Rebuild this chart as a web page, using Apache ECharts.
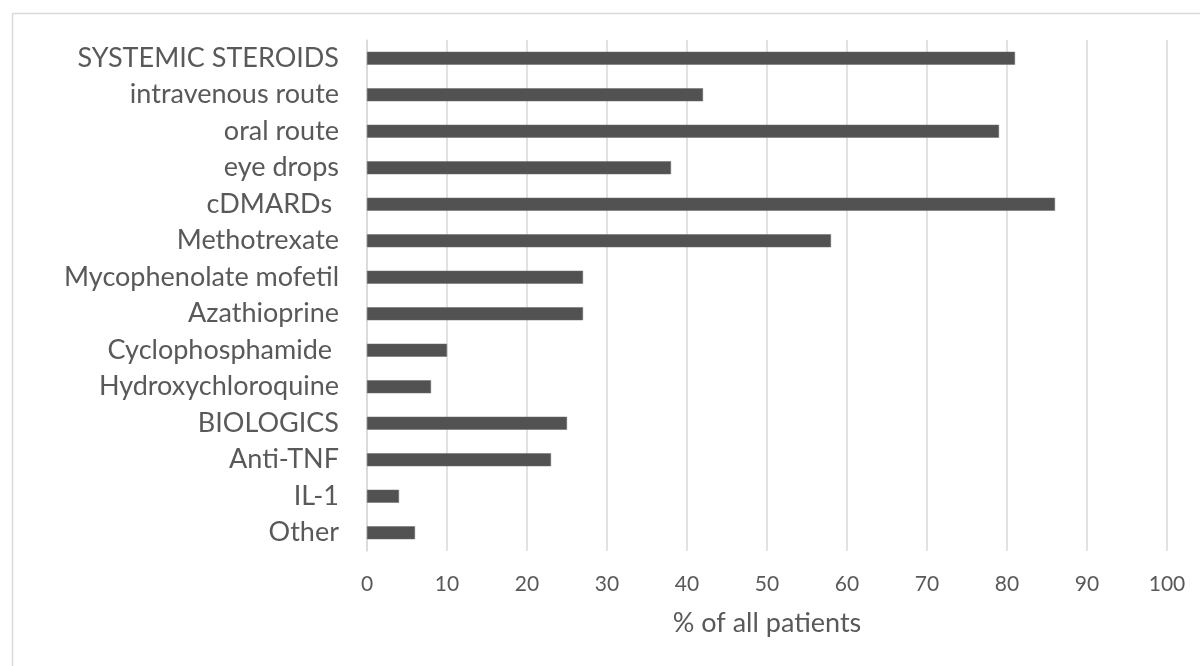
<!DOCTYPE html>
<html>
<head>
<meta charset="utf-8">
<script src="https://cdn.jsdelivr.net/npm/echarts@6/dist/echarts.min.js"></script>
<style>
html,body{margin:0;padding:0;background:#fff;}
#c{width:1200px;height:666px;}
</style>
</head>
<body>
<div id="c"></div>
<script>
const categories = ["SYSTEMIC STEROIDS","intravenous route","oral route","eye drops","cDMARDs ","Methotrexate","Mycophenolate mofetil","Azathioprine","Cyclophosphamide ","Hydroxychloroquine","BIOLOGICS","Anti-TNF","IL-1","Other"];
const values = [81,42,79,38,86,58,27,27,10,8,25,23,4,6];
const xTicks = {min:0, max:100, interval:10};
const axisTitle = "% of all patients";

const chart = echarts.init(document.getElementById('c'), null, {renderer:'canvas'});
const font = 'Lato, "Noto Sans", sans-serif';
chart.setOption({
  backgroundColor:'#fff',
  animation:false,
  graphic:[{type:'rect',left:10,top:11,shape:{x:0,y:0,width:1300,height:800},style:{fill:'none',stroke:'#d9d9d9',lineWidth:1.5},z:-1,silent:true}],
  grid:{left:367,width:800,top:40,height:511,containLabel:false},
  xAxis:{type:'value',min:xTicks.min,max:xTicks.max,interval:xTicks.interval,
    axisLine:{show:false},axisTick:{show:false},
    splitLine:{show:true,lineStyle:{color:'#d9d9d9',width:1.5}},
    axisLabel:{color:'#595959',fontSize:21,fontFamily:font,margin:23},
    name:axisTitle,nameLocation:'middle',nameGap:59,
    nameTextStyle:{color:'#595959',fontSize:27,fontFamily:font}},
  yAxis:{type:'category',data:categories,inverse:true,
    axisLine:{show:true,lineStyle:{color:'#d9d9d9',width:1.5}},
    axisTick:{show:false},
    axisLabel:{color:'#595959',fontSize:27,fontFamily:font,margin:28}},
  series:[{type:'bar',data:values,barWidth:13,itemStyle:{color:'#525252',borderColor:'#6a6a6a',borderWidth:0.5}}]
});
</script>
</body>
</html>
